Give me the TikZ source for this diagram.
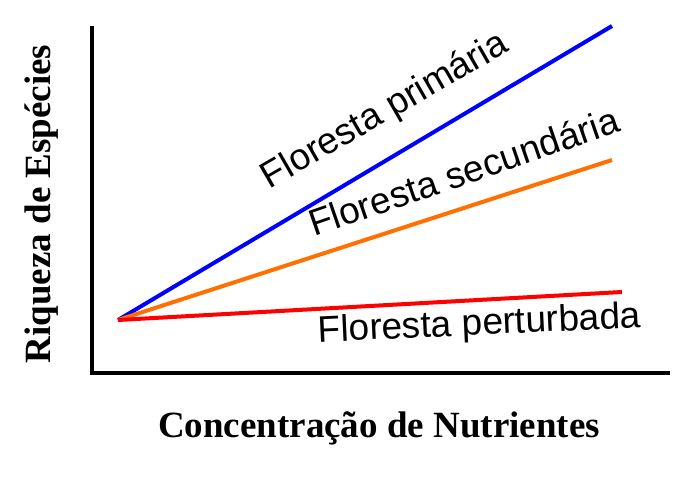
\documentclass[tikz,border=0pt]{standalone}
\usepackage{fontspec}
\setmainfont{Liberation Sans}
\newfontfamily\serifbold{Liberation Serif}
\begin{document}
\begin{tikzpicture}[x=1pt,y=-1pt,
  axisline/.style={line width=4.5pt,black},
  curve/.style={line width=4pt},
  lbl/.style={anchor=base,inner sep=0pt,font=\fontsize{37}{40}\selectfont},
  axlbl/.style={anchor=base,inner sep=0pt,font=\serifbold\bfseries\fontsize{37}{40}\selectfont}]
\useasboundingbox (0,0) rectangle (691,484);
\coordinate (ytop) at (92,26);
\coordinate (corner) at (92,373);
\coordinate (xend) at (670,373);
\coordinate (O) at (118,320);
\coordinate (P) at (612,26);
\coordinate (S) at (612,160);
\coordinate (D) at (622,292);
\draw[axisline] (ytop) -- (corner) -- (xend);
\draw[curve,blue] (O) -- (P);
\draw[curve,color={rgb,255:red,255;green,112;blue,0}] (O) -- (S);
\draw[curve,red] (O) -- (D);
\node[lbl,rotate=30] (lp) at (390,120) {Floresta primária};
\node[lbl,rotate=19] (ls) at (468,184) {Floresta secundária};
\node[lbl,rotate=2.6] (ld) at (480,335) {Floresta perturbada};
\node[axlbl,rotate=90] (yl) at (50,204) {Riqueza de Espécies};
\node[axlbl] (xl) at (379,437) {Concentração de Nutrientes};
\end{tikzpicture}
\end{document}
